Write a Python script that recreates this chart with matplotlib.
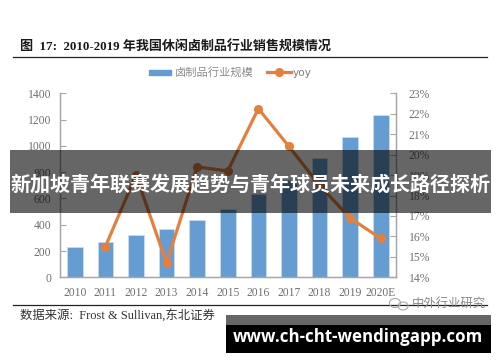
import matplotlib
matplotlib.use("Agg")
import matplotlib.pyplot as plt
from matplotlib.patches import Rectangle, Ellipse
from matplotlib.lines import Line2D

years = ["2010", "2011", "2012", "2013", "2014", "2015", "2016", "2017", "2018", "2019", "2020E"]
market_size = [232, 265, 320, 365, 438, 518, 634, 740, 910, 1065, 1232]
yoy_years = years[1:]
yoy = [15.5, 19.0, 14.7, 19.4, 19.2, 22.25, 20.4, 18.5, 16.9, 15.9]
left_ticks = [0, 200, 400, 600, 800, 1000, 1200, 1400]
right_ticks = [14, 15, 16, 17, 18, 19, 20, 21, 22, 23]

title = "图  17:  2010-2019 年我国休闲卤制品行业销售规模情况"
source = "数据来源:  Frost & Sullivan,东北证券"
banner = "新加坡青年联赛发展趋势与青年球员未来成长路径探析"
url = "www.ch-cht-wendingapp.com"
watermark = "中外行业研究"

W, H = 500, 362
BLUE = "#659dd2"
ORANGE = "#e5803c"
TICK = "#6f6f6f"
CJK = ["Liberation Serif", "Noto Sans CJK SC"]

fig = plt.figure(figsize=(W / 100, H / 100), dpi=100, facecolor="white")


def fx(x):
    return x / W


def fy(y):
    return 1 - y / H


def box(x0, y0, x1, y1, **kw):
    fig.add_artist(Rectangle((fx(x0), fy(y1)), (x1 - x0) / W, (y1 - y0) / H,
                             transform=fig.transFigure, **kw))


ax = fig.add_axes([fx(59.5), fy(277.3), 336.5 / W, 184 / H])
ax.bar(years, market_size, width=0.51, color=BLUE, edgecolor="#c9dcef", linewidth=0.6, zorder=2)
ax.set_xlim(-0.5, 10.5)
ax.set_ylim(0, 1400)
ax.set_yticks(left_ticks)
ax2 = ax.twinx()
ax2.plot(yoy_years, yoy, color=ORANGE, lw=2.3, marker="o", ms=5.5, solid_joinstyle="round", zorder=3)
ax2.set_xlim(-0.5, 10.5)
ax2.set_ylim(14, 23)
ax2.set_yticks(right_ticks)
ax2.set_yticklabels([f"{v}%" for v in right_ticks])

for a in (ax, ax2):
    a.spines["top"].set_visible(False)
    for s in ("left", "right", "bottom"):
        a.spines[s].set_color("#a6a6a6")
        a.spines[s].set_linewidth(0.9)
    a.set_facecolor("none")
    for lab in a.get_xticklabels() + a.get_yticklabels():
        lab.set_family("Liberation Serif")
        lab.set_fontsize(8.4)
        lab.set_color(TICK)
ax.tick_params(axis="y", direction="in", length=4, color="#a6a6a6", width=0.8, pad=6)
ax2.tick_params(axis="y", direction="in", length=4, color="#a6a6a6", width=0.8, pad=9)
ax.tick_params(axis="x", length=0, pad=7)

# header and footer rules
fig.add_artist(Line2D([fx(13), fx(487)], [fy(56.5)] * 2, color="#222222", lw=0.9))
fig.add_artist(Line2D([fx(13), fx(487)], [fy(304.5)] * 2, color="#222222", lw=0.9))
fig.text(fx(20), fy(47), title, family=CJK, fontsize=9.4, fontweight="bold", color="#1a1a1a", va="center")
fig.text(fx(20), fy(315), source, family=CJK, fontsize=8.9, color="#333333", va="center")

# legend
fig.add_artist(Rectangle((fx(149), fy(74.5)), 22 / W, 4.5 / H, transform=fig.transFigure, color=BLUE))
fig.text(fx(175), fy(72), "卤制品行业规模", family=["Noto Sans CJK SC"], fontsize=8.1, color="#8c8c8c", va="center")
fig.add_artist(Line2D([fx(267), fx(291)], [fy(72)] * 2, color=ORANGE, lw=2.3))
fig.add_artist(Line2D([fx(279)], [fy(72)], color=ORANGE, marker="o", ms=5.5))
fig.text(fx(293), fy(72.5), "yoy", family=["DejaVu Sans"], fontsize=7.6, color="#7f7f7f", va="center")

# watermark
for cx, cy, w, h in [(395, 303, 11, 9), (403, 306, 10, 8)]:
    fig.add_artist(Ellipse((fx(cx), fy(cy)), w / W, h / H, transform=fig.transFigure,
                           fill=False, ec="#a8a8a8", lw=0.8, zorder=6))
fig.text(fx(412), fy(303.5), watermark, family=["Noto Sans CJK SC"], fontsize=8.9, color="#8a8a8a", va="center", zorder=6)

# banner overlays
box(10, 150, 491, 213, facecolor="black", alpha=0.6, edgecolor="none", zorder=8)
fig.text(fx(250.5), fy(185), banner, family=["Noto Sans CJK SC"], fontsize=14.45, fontweight="bold",
         color="white", ha="center", va="center", zorder=9)
box(226, 315, 491, 325, facecolor="#666666", edgecolor="none", zorder=8)
box(226, 325, 491, 353, facecolor="black", edgecolor="none", zorder=8)
fig.text(fx(358), fy(336.5), url, family=["Open Sans"], fontsize=12.2, fontweight="bold",
         color="white", ha="center", va="center", zorder=9)

fig.savefig("out.png", dpi=100)
